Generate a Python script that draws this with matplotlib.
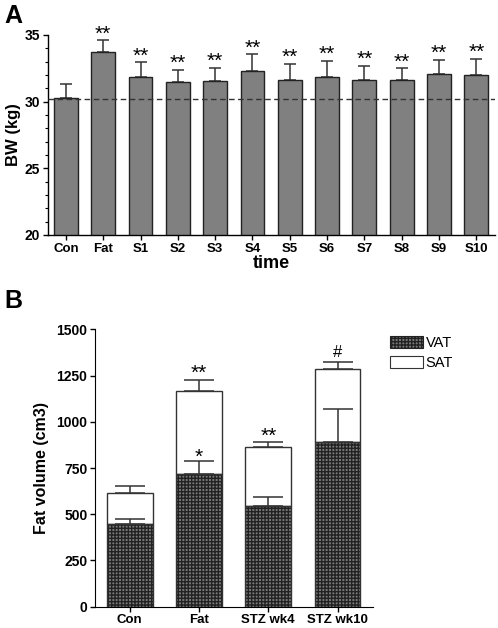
import matplotlib.pyplot as plt
import matplotlib.patches as mpatches
import numpy as np

plt.rcParams['font.family'] = ['Liberation Sans', 'DejaVu Sans']

# panel A: body weight
groups_a = ['Con', 'Fat', 'S1', 'S2', 'S3', 'S4', 'S5', 'S6', 'S7', 'S8', 'S9', 'S10']
bw_mean = [30.3, 33.7, 31.85, 31.5, 31.55, 32.3, 31.65, 31.85, 31.6, 31.6, 32.05, 32.0]
bw_err = [1.05, 0.9, 1.1, 0.9, 1.0, 1.25, 1.2, 1.2, 1.1, 0.9, 1.1, 1.2]
bw_sig = ['', '**', '**', '**', '**', '**', '**', '**', '**', '**', '**', '**']
con_line = 30.2

# panel B: fat volume
groups_b = ['Con', 'Fat', 'STZ wk4', 'STZ wk10']
vat = [446, 716, 545, 889]
vat_err = [27, 74, 47, 182]
sat = [167, 453, 319, 399]
sat_err = [40, 58, 25, 37]
sig_top = ['', '**', '**', '#']
sig_vat = ['', '*', '', '']


def mark(a, xi, y, s, dy=0.5):
    # stars sit high in the glyph box, '#' does not
    if s == '#':
        a.annotate(s, (xi, y), xytext=(0, 3.5), textcoords='offset points',
                   ha='center', va='baseline', fontsize=12)
    else:
        a.annotate(s, (xi, y), xytext=(0, dy), textcoords='offset points',
                   ha='center', va='baseline', fontsize=15)


fig = plt.figure(figsize=(4.98, 6.28), dpi=100)

# ---------- A ----------
ax = fig.add_axes([0.0964, 0.6258, 0.8976, 0.3185])
x = np.arange(len(groups_a))
ax.bar(x, bw_mean, width=0.64, color='#808080', edgecolor='#222222', linewidth=1.0, zorder=2)
ax.errorbar(x, bw_mean, yerr=[np.zeros(len(x)), bw_err], fmt='none', ecolor='#333333',
            elinewidth=1.1, capsize=4.5, capthick=1.1, zorder=1)
ax.axhline(con_line, color='#333333', lw=1.0, ls=(0, (4, 2.5)), zorder=3)
for xi, m, e, s in zip(x, bw_mean, bw_err, bw_sig):
    if s:
        mark(ax, xi, m + e, s)
ax.set_xlim(-0.48, 11.5)
ax.set_ylim(20, 35)
ax.set_yticks([20, 25, 30, 35])
ax.set_yticks(np.arange(20, 36, 1), minor=True)
ax.set_xticks(x)
ax.set_xticklabels(groups_a, fontsize=9.5, fontweight='bold')
for lab in ax.get_yticklabels():
    lab.set_fontsize(10)
    lab.set_fontweight('bold')
ax.tick_params(axis='both', direction='out', length=3.5, width=1, pad=2)
ax.tick_params(axis='y', which='minor', length=2, width=0.8)
ax.spines['top'].set_visible(False)
ax.spines['right'].set_visible(False)
ax.spines['left'].set_linewidth(1)
ax.spines['bottom'].set_linewidth(1)
ax.set_ylabel('BW (kg)', fontsize=12, fontweight='bold', labelpad=3)
ax.set_xlabel('time', fontsize=13, fontweight='bold', labelpad=0)
fig.text(0.008, 0.993, 'A', fontsize=18, fontweight='bold', ha='left', va='top')

# ---------- B ----------
bx = fig.add_axes([0.1908, 0.0339, 0.558, 0.4417])
xb = np.arange(len(groups_b))
w = 0.66
bx.bar(xb, vat, width=w, color='#7a7a7a', edgecolor='#222222', hatch='+++++',
       linewidth=0, zorder=2)
bx.bar(xb, vat, width=w, color='none', edgecolor='#333333', linewidth=1.0, zorder=3)
bx.bar(xb, sat, bottom=vat, width=w, color='white', edgecolor='#333333', linewidth=1.0, zorder=2)
bx.errorbar(xb, vat, yerr=[np.zeros(len(xb)), vat_err], fmt='none', ecolor='#333333',
            elinewidth=1.1, capsize=11, capthick=1.1, zorder=4)
tot = np.array(vat) + np.array(sat)
bx.errorbar(xb, tot, yerr=[np.zeros(len(xb)), sat_err], fmt='none', ecolor='#333333',
            elinewidth=1.1, capsize=11, capthick=1.1, zorder=4)
for xi, t, e, s in zip(xb, tot, sat_err, sig_top):
    if s:
        mark(bx, xi, t + e, s)
for xi, t, e, s in zip(xb, vat, vat_err, sig_vat):
    if s:
        mark(bx, xi, t + e, s, dy=-1.5)
bx.set_xlim(-0.5, 3.51)
bx.set_ylim(0, 1500)
bx.set_yticks([0, 250, 500, 750, 1000, 1250, 1500])
bx.set_xticks(xb)
bx.set_xticklabels(groups_b, fontsize=9.5, fontweight='bold')
for lab in bx.get_yticklabels():
    lab.set_fontsize(10)
    lab.set_fontweight('bold')
bx.tick_params(axis='both', direction='out', length=3.5, width=1, pad=2)
bx.spines['top'].set_visible(False)
bx.spines['right'].set_visible(False)
bx.set_ylabel('Fat volume (cm3)', fontsize=11.5, fontweight='bold', labelpad=5)
fig.text(0.008, 0.54, 'B', fontsize=18, fontweight='bold', ha='left', va='top')

h_vat = mpatches.Patch(facecolor='#7a7a7a', edgecolor='#222222', hatch='+++++', linewidth=0.8)
h_sat = mpatches.Patch(facecolor='white', edgecolor='#333333', linewidth=0.8)
fig.legend([h_vat, h_sat], ['VAT', 'SAT'], loc='upper left', bbox_to_anchor=(0.783, 0.465),
           frameon=False, fontsize=10.5, handlelength=2.3, handleheight=0.9,
           handletextpad=0.15, labelspacing=0.4, borderaxespad=0, borderpad=0)

fig.savefig('out.png', dpi=100)
